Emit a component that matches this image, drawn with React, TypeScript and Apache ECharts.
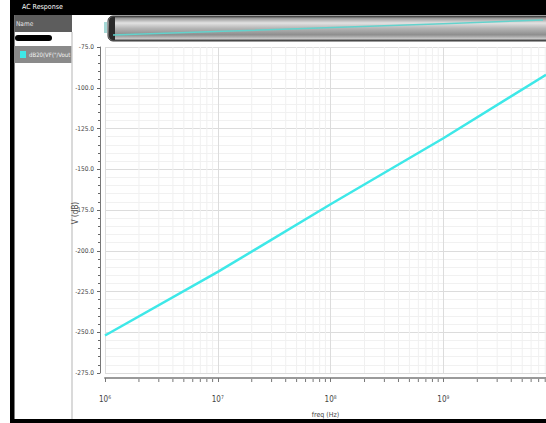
import React, { useEffect, useRef } from "react";
import * as echarts from "echarts";

const seriesName = 'dB20(VF("/Vout"))';
const freqs = [1e6, 1e7, 1e8, 1e9, 8.13e9];
const dbValues = [-252, -213, -171.5, -131, -92];
const decades = [6, 7, 8, 9];
const minorMultipliers = [2, 3, 4, 5, 6, 7, 8, 9];
const yMin = -275;
const yMax = -75;
const yStep = 25;
const xMin = 1e6;
const xMax = 8.13e9;

const FONT = '"Liberation Sans Narrow", "DejaVu Sans Condensed", "Liberation Sans", sans-serif';

export default function App() {
  const ref = useRef<HTMLDivElement>(null);
  useEffect(() => {
    if (!ref.current) return;
    const chart = echarts.init(ref.current, undefined, { renderer: "svg" });
    const lineData = freqs.map((f, i) => [f, dbValues[i]]);
    const minorFreqs: number[] = [];
    decades.forEach((d) => minorMultipliers.forEach((m) => {
      const v = m * Math.pow(10, d);
      if (v < xMax) minorFreqs.push(v);
    }));
    const option: any = {
      animation: false,
      textStyle: { fontFamily: FONT },
      grid: [
        { left: 105, right: 0, top: 47, bottom: 49.5 },
        { left: 113, right: 3, top: 18.5, height: 18.6 },
      ],
      legend: {
        data: [seriesName],
        left: 14,
        top: 46,
        orient: "vertical",
        backgroundColor: "#8a8a8a",
        padding: [5, 1, 5, 6],
        itemWidth: 6,
        itemHeight: 7,
        itemGap: 3,
        icon: "rect",
        textStyle: { color: "#f2f2f2", fontSize: 6, fontFamily: FONT, width: 44, overflow: "truncate", ellipsis: "", padding: [0, 0, 0, -2] },
      },
      xAxis: [
        {
          type: "log",
          gridIndex: 0,
          logBase: 10,
          min: xMin,
          max: xMax,
          offset: 5,
          name: "freq (Hz)",
          nameLocation: "middle",
          nameGap: 33,
          nameMoveOverlap: false,
          nameTextStyle: { fontSize: 7, color: "#444", fontFamily: FONT },
          axisLine: { show: true, lineStyle: { color: "#9a9a9a", width: 2 } },
          axisTick: { show: true, length: 4, lineStyle: { color: "#777" } },
          axisLabel: {
            margin: 16,
            showMaxLabel: false,
            formatter: (v: number) => {
              const e = Math.log10(v);
              if (Math.abs(e - Math.round(e)) > 1e-6) return "";
              return `{b|10}{s|${Math.round(e)}}`;
            },
            rich: {
              b: { fontSize: 8, color: "#444", fontFamily: FONT },
              s: { fontSize: 5, color: "#444", fontFamily: FONT, verticalAlign: "top", padding: [0, 0, 6, 0] },
            },
          },
          splitLine: { show: true, lineStyle: { color: "#dcdcdc", width: 1 } },
        },
        {
          type: "log",
          gridIndex: 1,
          min: xMin,
          max: xMax,
          show: false,
          splitLine: { show: false },
        },
      ],
      yAxis: [
        {
          type: "value",
          gridIndex: 0,
          min: yMin,
          max: yMax,
          interval: yStep,
          offset: 5,
          name: "V (dB)",
          nameLocation: "middle",
          nameGap: 21,
          nameMoveOverlap: false,
          nameTextStyle: { fontSize: 8, color: "#444", fontFamily: FONT, padding: [0, 0, 0, -6] },
          axisLine: { show: true, lineStyle: { color: "#777", width: 1 } },
          axisTick: { show: true, length: 3, lineStyle: { color: "#666" } },
          minorTick: { show: true, splitNumber: 5, length: 2, lineStyle: { color: "#666" } },
          axisLabel: {
            margin: 6,
            fontSize: 6.5,
            color: "#444",
            fontFamily: FONT,
            formatter: (v: number) => v.toFixed(1),
          },
          splitLine: { show: true, lineStyle: { color: "#dcdcdc", width: 1 } },
          minorSplitLine: { show: true, lineStyle: { color: "#f1f1f1", width: 1 } },
        },
        {
          type: "value",
          gridIndex: 1,
          min: yMin,
          max: yMax,
          show: false,
          splitLine: { show: false },
        },
      ],
      graphic: [
        { type: "rect", shape: { x: 10, y: 0, width: 536, height: 15 }, style: { fill: "#000" }, z: 0 },
        { type: "rect", shape: { x: 10, y: 0, width: 4.5, height: 423 }, style: { fill: "#000" }, z: 0 },
        { type: "rect", shape: { x: 10, y: 419, width: 536, height: 4 }, style: { fill: "#000" }, z: 0 },
        { type: "text", x: 22, y: 7, style: { text: "AC Response", fill: "#ffffff", fontSize: 7, fontFamily: FONT, verticalAlign: "middle" }, z: 1 },
        { type: "rect", shape: { x: 14.5, y: 15, width: 57.5, height: 17 }, style: { fill: "#5d5d5d" }, z: 0 },
        { type: "text", x: 16, y: 23.5, style: { text: "Name", fill: "#e6e6e6", fontSize: 6.5, fontFamily: FONT, verticalAlign: "middle" }, z: 1 },
        { type: "rect", shape: { x: 15, y: 35, width: 37, height: 6, r: 3 }, style: { fill: "#000" }, z: 0 },
        { type: "line", shape: { x1: 72, y1: 32, x2: 72, y2: 419 }, style: { stroke: "#b5b5b5", lineWidth: 1 }, z: 0 },
        {
          type: "rect",
          shape: { x: 108, y: 16, width: 450, height: 25, r: [5, 0, 0, 5] },
          style: {
            fill: new echarts.graphic.LinearGradient(0, 0, 0, 1, [
              { offset: 0, color: "#3c3c3c" },
              { offset: 0.1, color: "#9a9a9a" },
              { offset: 0.28, color: "#e2e2e2" },
              { offset: 0.5, color: "#b4b4b4" },
              { offset: 0.75, color: "#8e8e8e" },
              { offset: 0.9, color: "#c4c4c4" },
              { offset: 1, color: "#3c3c3c" },
            ]),
            stroke: "#3a3a3a",
            lineWidth: 1,
          },
          z: 0,
        },
        { type: "rect", shape: { x: 109, y: 17, width: 6, height: 23, r: [4, 0, 0, 4] }, style: { fill: "#2a2a2a" }, z: 1 },
        { type: "rect", shape: { x: 104, y: 22, width: 3, height: 11 }, style: { fill: "#a6d8d6" }, z: 1 },
      ],
      series: [
        {
          name: "minor",
          type: "custom",
          xAxisIndex: 0,
          yAxisIndex: 0,
          silent: true,
          clip: false,
          z: 1,
          data: minorFreqs.map((f) => [f, yMin]),
          renderItem: (params: any, api: any) => {
            const v = api.value(0);
            const top = api.coord([v, yMax]);
            const bot = api.coord([v, yMin]);
            return {
              type: "group",
              children: [
                { type: "line", shape: { x1: top[0], y1: top[1], x2: bot[0], y2: bot[1] }, style: { stroke: "#f0f0f0", lineWidth: 1 } },
                { type: "line", shape: { x1: bot[0], y1: bot[1] + 6, x2: bot[0], y2: bot[1] + 9 }, style: { stroke: "#777", lineWidth: 1 } },
              ],
            };
          },
        },
        {
          name: seriesName,
          type: "line",
          xAxisIndex: 0,
          yAxisIndex: 0,
          data: lineData,
          showSymbol: false,
          color: "#3ee8e8",
          lineStyle: { color: "#3ee8e8", width: 2.5 },
          z: 3,
        },
        {
          name: "overview",
          type: "line",
          xAxisIndex: 1,
          yAxisIndex: 1,
          data: lineData,
          showSymbol: false,
          lineStyle: { color: "#63d2cc", width: 1.5 },
          z: 3,
        },
      ],
    };
    chart.setOption(option);
    return () => chart.dispose();
  }, []);
  return (
    <div
      ref={ref}
      style={{ position: "fixed", left: 0, top: 0, width: 546, height: 423, background: "#fff" }}
    />
  );
}
